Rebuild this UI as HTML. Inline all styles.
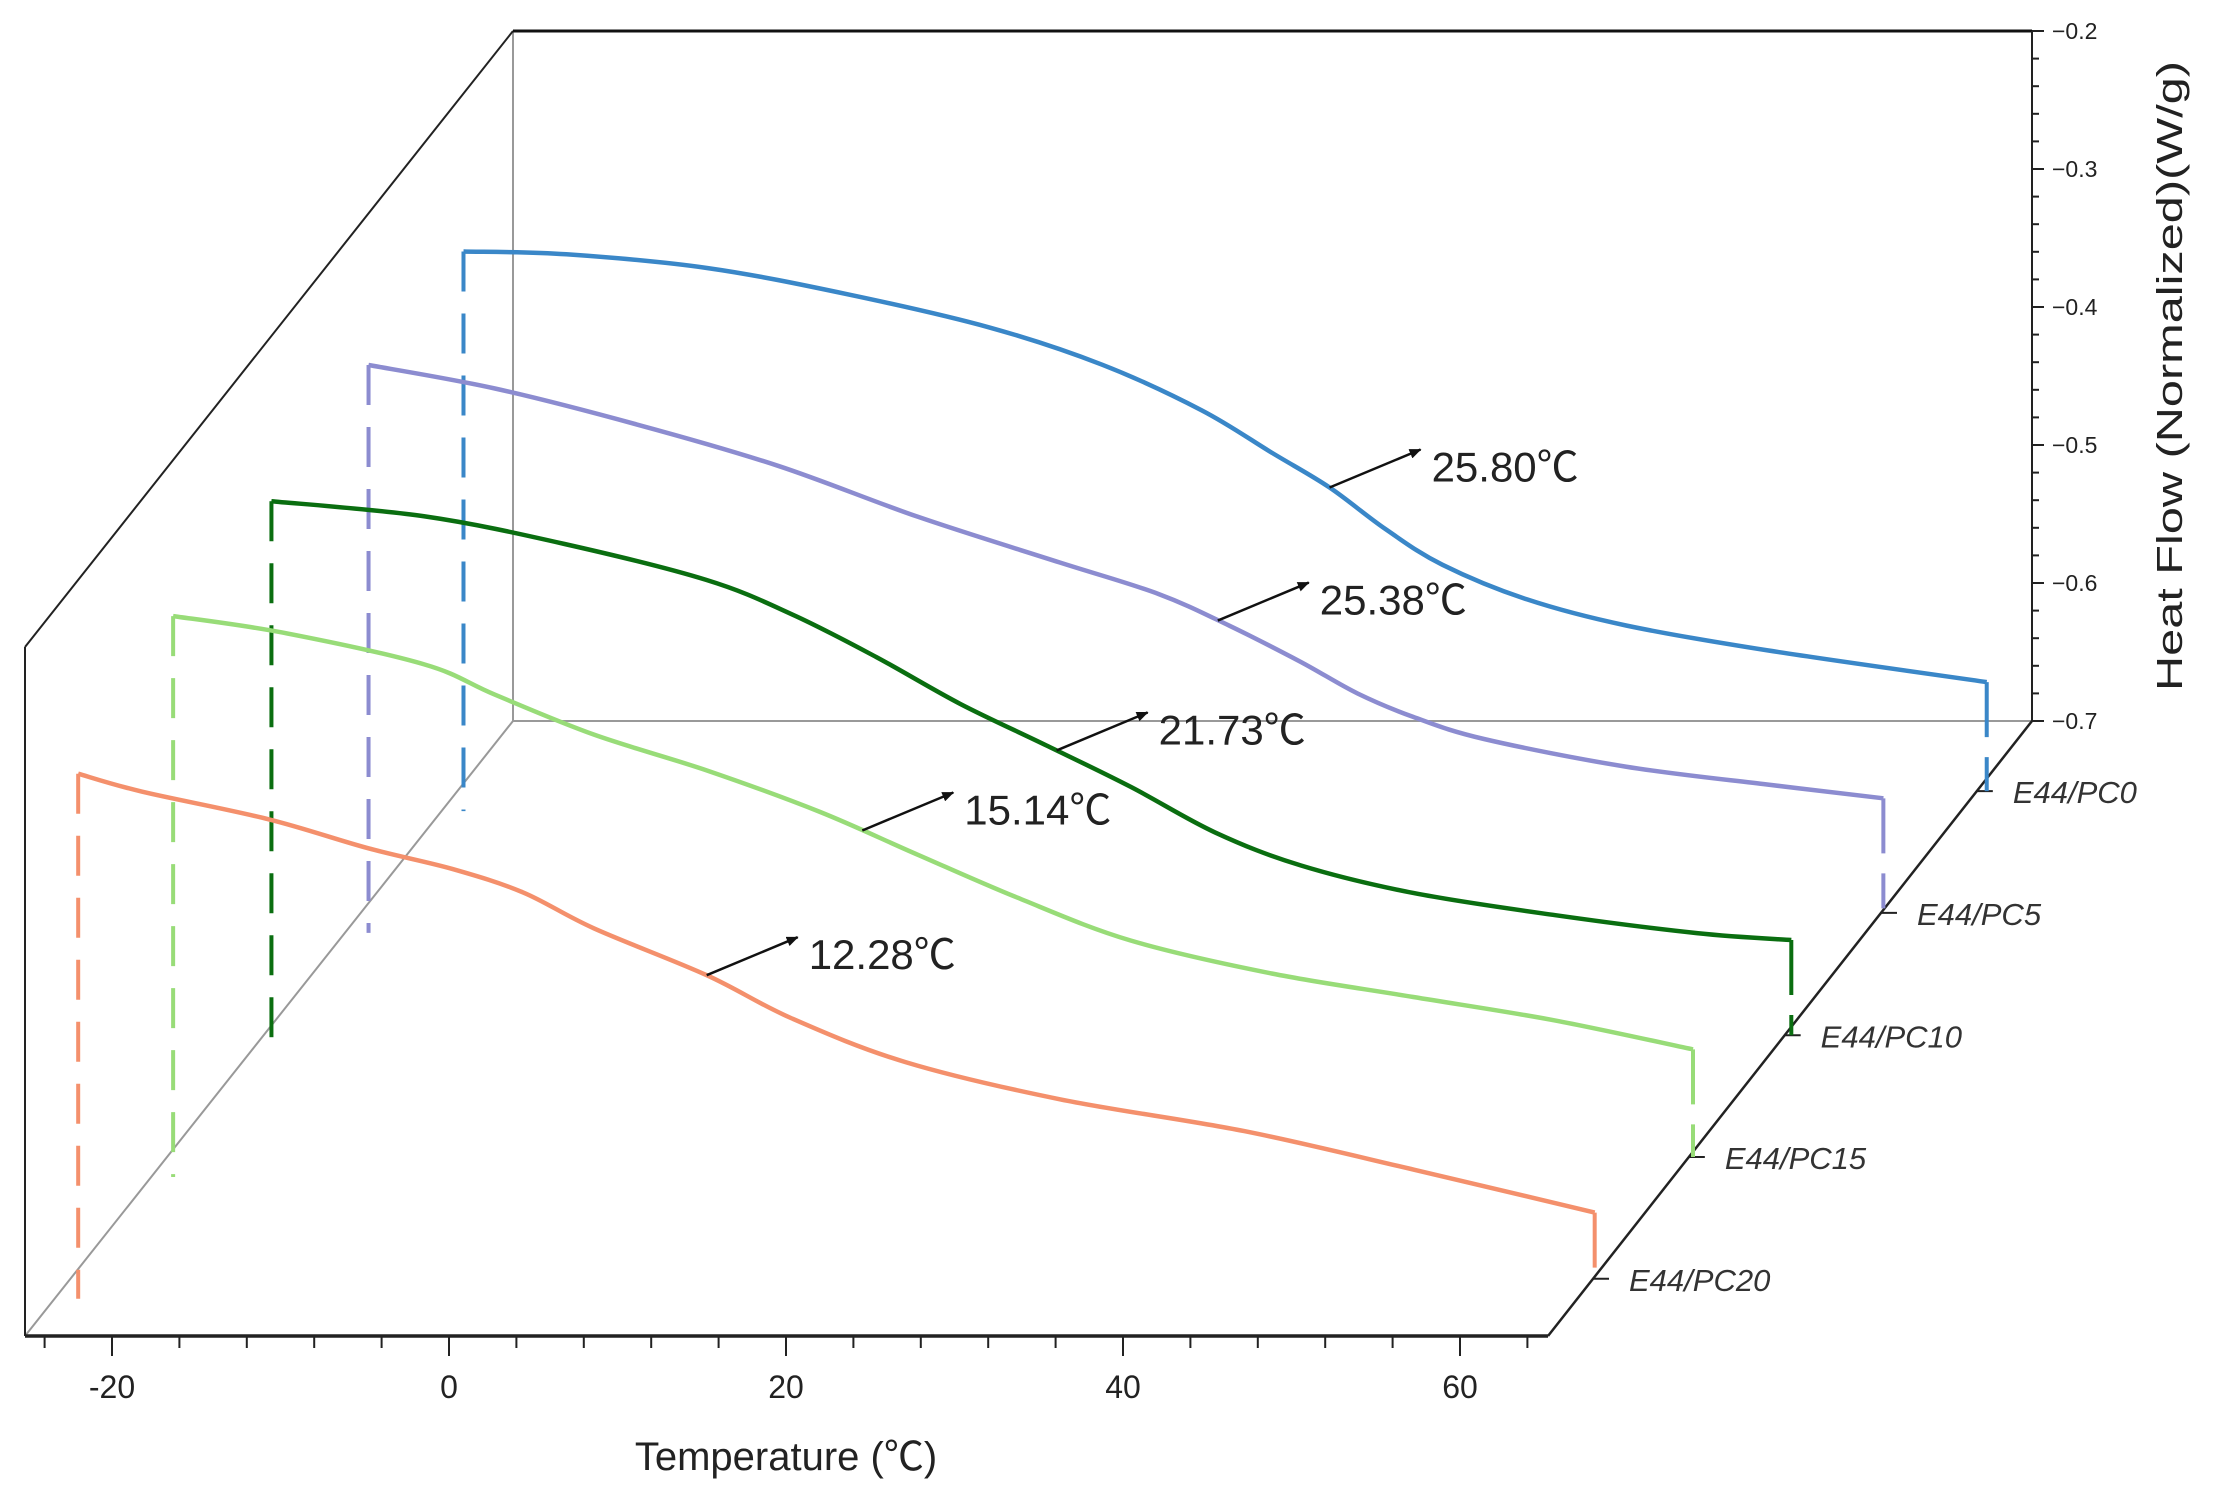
<!DOCTYPE html>
<html><head><meta charset="utf-8"><style>
html,body{margin:0;padding:0;background:#fff}
svg{display:block}
text{font-family:"Liberation Sans","Noto Sans CJK SC",sans-serif}
</style></head><body>
<svg id="chart" width="2216" height="1504" viewBox="0 0 2216 1504" xmlns="http://www.w3.org/2000/svg">
<g id="frame">
<line x1="513" y1="31" x2="513" y2="721" stroke="#999" stroke-width="2"/>
<line x1="513" y1="721" x2="2032" y2="721" stroke="#999" stroke-width="2"/>
<line x1="25" y1="1336" x2="513" y2="721" stroke="#999" stroke-width="2"/>
<line x1="25" y1="647" x2="513" y2="31" stroke="#222" stroke-width="2"/>
<line x1="25" y1="647" x2="25" y2="1336" stroke="#222" stroke-width="2"/>
<line x1="513" y1="31" x2="2032" y2="31" stroke="#111" stroke-width="3"/>
<line x1="2032" y1="31" x2="2032" y2="721" stroke="#222" stroke-width="2"/>
<line x1="1548" y1="1336" x2="2032" y2="721" stroke="#222" stroke-width="2.5"/>
<line x1="25" y1="1336" x2="1548" y2="1336" stroke="#222" stroke-width="3.5"/>
</g>
<g id="xaxis"></g>
<g id="yaxis"></g>
<g id="zaxis"></g>
<g id="series"></g>
<g id="annots"></g>
<text x="786" y="1470" font-size="40" text-anchor="middle" fill="#222">Temperature (℃)</text>
<text transform="translate(2182,376) rotate(-90)" font-size="36" text-anchor="middle" fill="#222" textLength="630" lengthAdjust="spacingAndGlyphs">Heat Flow (Normalized)(W/g)</text>
</svg>
<script>
const xTicks=[-20,0,20,40,60];
const yTicks=[-0.2,-0.3,-0.4,-0.5,-0.6,-0.7];
const seriesNames=["E44/PC20","E44/PC15","E44/PC10","E44/PC5","E44/PC0"];
const seriesColors=["#f4906c","#98dc78","#0a6e10","#8c8cd0","#3a87c8"];
const tgLabels=["12.28℃","15.14℃","21.73℃","25.38℃","25.80℃"];
const tgT=[12.6,16.1,21.9,25.7,26.6];
const tPC20=[-24.7,-20.9,-13.4,-7.5,-2.5,1.7,5.9,12.6,17.6,24.4,33.6,44.5,54.6,65.3];
const vPC20=[-0.334,-0.347,-0.367,-0.388,-0.403,-0.420,-0.446,-0.480,-0.511,-0.543,-0.570,-0.593,-0.621,-0.652];
const tPC15=[-24.8,-18.3,-9.9,-5.7,0.2,6.9,13.6,19.4,25.3,32.0,40.4,48.8,57.2,65.4];
const vPC15=[-0.308,-0.320,-0.343,-0.365,-0.394,-0.420,-0.450,-0.481,-0.512,-0.543,-0.567,-0.584,-0.601,-0.622];
const tPC10=[-24.7,-15.6,-7.3,1.1,6.2,11.2,16.2,21.3,26.3,31.3,36.4,43.1,51.5,59.9,65.5];
const vPC10=[-0.313,-0.324,-0.344,-0.370,-0.395,-0.426,-0.460,-0.490,-0.520,-0.553,-0.577,-0.597,-0.613,-0.626,-0.631];
const tPC5=[-24.7,-17.2,-8.8,-0.4,7.9,16.3,22.2,26.4,30.6,34.0,37.3,41.5,49.9,58.3,65.2];
const vPC5=[-0.303,-0.320,-0.346,-0.376,-0.413,-0.446,-0.469,-0.492,-0.518,-0.541,-0.558,-0.574,-0.594,-0.607,-0.617];
const tPC0=[-24.8,-18.7,-10.3,-2.0,6.4,13.1,19.0,23.2,26.6,29.9,33.3,38.3,44.2,52.6,65.6];
const vPC0=[-0.309,-0.311,-0.321,-0.340,-0.364,-0.391,-0.424,-0.455,-0.480,-0.510,-0.536,-0.561,-0.580,-0.598,-0.621];
const depths=[0.093,0.291,0.489,0.688,0.886];

const NS="http://www.w3.org/2000/svg";
function X(t,d){return 449+16.85*t+488*d;}
function Y(v,d){return 1336-(v+0.7)*1380-615*d;}
function mk(tag,attrs,parent){const e=document.createElementNS(NS,tag);for(const k in attrs)e.setAttribute(k,attrs[k]);parent.appendChild(e);return e;}

const xg=document.getElementById('xaxis');
for(let t=-24;t<=64;t+=4){
  const major=xTicks.includes(t);
  const l=mk('line',{x1:X(t,0),y1:1337,x2:X(t,0),y2:1337+(major?19:11),stroke:'#222','stroke-width':2},xg);
  
  
}
xTicks.forEach(t=>{
  const e=mk('text',{x:X(t,0),y:1398,'font-size':32,'text-anchor':'middle',fill:'#222'},xg);
  e.textContent=String(t);
  
  
});
const yg=document.getElementById('yaxis');
for(let i=0;i<=25;i++){
  const v=-0.7+i*0.02;
  const major=(i%5===0);
  const yy=721-(v+0.7)*1380;
  const l=mk('line',{x1:2032,y1:yy,x2:2032+(major?12:7),y2:yy,stroke:'#222','stroke-width':2},yg);
  
  
}
yTicks.forEach(v=>{
  const yy=721-(v+0.7)*1380;
  const e=mk('text',{x:2052,y:yy+8,'font-size':23,fill:'#222'},yg);
  e.textContent='\u2212'+Math.abs(v).toFixed(1);
  
  
});
const zg=document.getElementById('zaxis');
seriesNames.forEach((n,i)=>{
  const d=depths[i];
  const px=1548+484*d, py=1336-615*d;
  const l=mk('line',{x1:px,y1:py,x2:px+16,y2:py,stroke:'#222','stroke-width':2},zg);
  
  
  const e=mk('text',{x:px+36,y:py+12,'font-size':31,'font-style':'italic',fill:'#333'},zg);
  e.textContent=n;
  
  
});

function smoothPath(pts){
  let s='M'+pts[0][0].toFixed(1)+','+pts[0][1].toFixed(1);
  for(let i=0;i<pts.length-1;i++){
    const p0=pts[Math.max(0,i-1)],p1=pts[i],p2=pts[i+1],p3=pts[Math.min(pts.length-1,i+2)];
    const c1=[p1[0]+(p2[0]-p0[0])/6,p1[1]+(p2[1]-p0[1])/6];
    const c2=[p2[0]-(p3[0]-p1[0])/6,p2[1]-(p3[1]-p1[1])/6];
    s+=' C'+c1[0].toFixed(1)+','+c1[1].toFixed(1)+' '+c2[0].toFixed(1)+','+c2[1].toFixed(1)+' '+p2[0].toFixed(1)+','+p2[1].toFixed(1);
  }
  return s;
}
const tArr=[tPC20,tPC15,tPC10,tPC5,tPC0];
const vArr=[vPC20,vPC15,vPC10,vPC5,vPC0];
const sg=document.getElementById('series');
const ag=document.getElementById('annots');
mk('defs',{},ag).innerHTML='<marker id="ah" markerWidth="12" markerHeight="10" refX="11" refY="5" orient="auto" markerUnits="userSpaceOnUse"><path d="M0,0 L12,5 L0,10 z" fill="#111"/></marker>';
const ord=[4,3,2,1,0];
ord.forEach(i=>{
  const d=depths[i],ts=tArr[i],vs=vArr[i],c=seriesColors[i];
  const g=mk('g',{},sg);
  
  
  const n=ts.length;
  const l1=mk('line',{x1:X(ts[0],d),y1:Y(vs[0],d),x2:X(ts[0],d),y2:Y(-0.7,d)+20,stroke:c,'stroke-width':4,'stroke-dasharray':'40 22'},g);
  
  
  const l2=mk('line',{x1:X(ts[n-1],d),y1:Y(vs[n-1],d),x2:X(ts[n-1],d),y2:Y(-0.7,d),stroke:c,'stroke-width':4,'stroke-dasharray':'55 20 35 40'},g);
  
  
  const pts=ts.map((t,k)=>[X(t,d),Y(vs[k],d)]);
  const p=mk('path',{d:smoothPath(pts),fill:'none',stroke:c,'stroke-width':4.5,'stroke-linejoin':'round'},g);
  
  
  const tg=tgT[i];
  let k=0;while(k<n-2&&ts[k+1]<tg)k++;
  const f=(tg-ts[k])/(ts[k+1]-ts[k]);
  const vg=vs[k]+f*(vs[k+1]-vs[k]);
  const ax=X(tg,d),ay=Y(vg,d);
  const a=mk('line',{x1:ax,y1:ay,x2:ax+91,y2:ay-38,stroke:'#111','stroke-width':2.5,'marker-end':'url(#ah)'},ag);
  
  
  const tx=mk('text',{x:ax+102,y:ay-6,'font-size':42,fill:'#222'},ag);
  tx.textContent=tgLabels[i];
  
  
});
</script>
</body></html>
